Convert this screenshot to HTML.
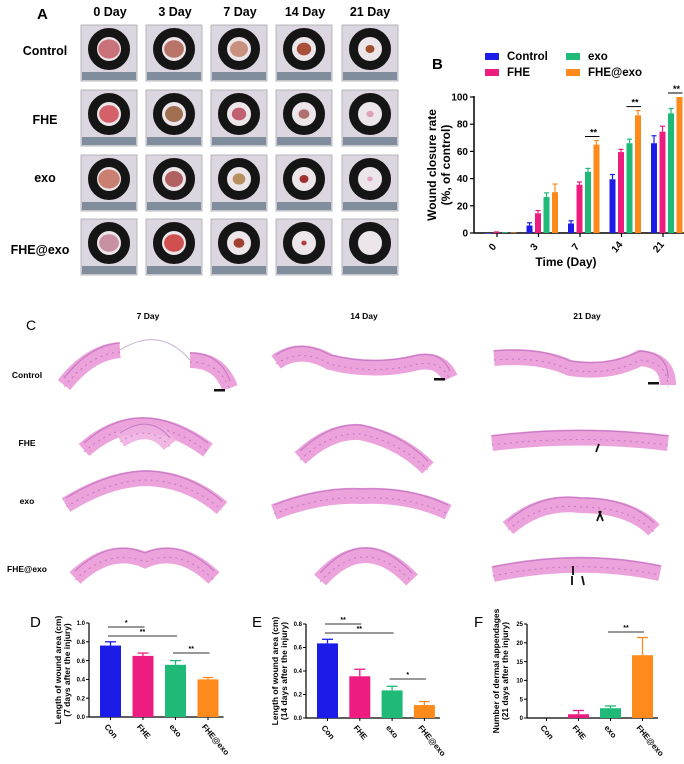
<!DOCTYPE html>
<html><head><meta charset="utf-8"><style>
html,body{margin:0;padding:0;background:#fff}
svg{display:block;font-family:"Liberation Sans",Arial,sans-serif}
</style></head><body>
<svg id="fig" width="684" height="764" viewBox="0 0 684 764">
<rect width="684" height="764" fill="#fff"/>
<g id="panelA">
<text x="37" y="19" font-size="15" font-weight="bold">A</text>
<g font-size="12.5" font-weight="bold" text-anchor="middle">
<text x="110" y="16">0 Day</text>
<text x="175" y="16">3 Day</text>
<text x="240" y="16">7 Day</text>
<text x="305" y="16">14 Day</text>
<text x="370" y="16">21 Day</text>
</g>
<g font-size="12.5" font-weight="bold" text-anchor="middle">
<text x="45" y="55">Control</text>
<text x="45" y="124">FHE</text>
<text x="45" y="182">exo</text>
<text x="40" y="254">FHE@exo</text>
</g>
</g>
<g id="panelB">
<text x="432" y="69" font-size="15" font-weight="bold">B</text>
</g>
<g id="panelC">
<text x="26" y="330" font-size="14">C</text>
<g font-size="8.5" font-weight="bold" text-anchor="middle">
<text x="148" y="319">7 Day</text>
<text x="364" y="319">14 Day</text>
<text x="587" y="319">21 Day</text>
<text x="27" y="378">Control</text>
<text x="27" y="446">FHE</text>
<text x="27" y="504">exo</text>
<text x="27" y="572">FHE@exo</text>
</g>
</g>
<g id="panelD"><text x="30" y="627" font-size="15">D</text></g>
<g id="panelE"><text x="252" y="627" font-size="15">E</text></g>
<g id="panelF"><text x="474" y="627" font-size="15">F</text></g>
</svg>
<script>
// ---- Panel B data ----
const bDays = ['0','3','7','14','21'];
const bSeriesNames = ['Control','FHE','exo','FHE@exo'];
const bControl = [0, 5.5, 7, 39.5, 66];
const bControlErr = [0, 2, 2, 3.5, 5.5];
const bFHE = [0.5, 14.5, 35.5, 59.5, 74.5];
const bFHEErr = [0.3, 2, 2, 2, 4];
const bExo = [0.5, 26.5, 45, 66, 88];
const bExoErr = [0, 3, 2.5, 3, 3.5];
const bFHEexo = [0.3, 30, 65, 86.5, 100];
const bFHEexoErr = [0, 6, 3, 3.5, 0];
const bYTicks = [0, 20, 40, 60, 80, 100];
const bSig = ['', '', '**', '**', '**'];
// ---- Panel D/E/F data ----
const groups = ['Con','FHE','exo','FHE@exo'];
const dValues = [0.76, 0.65, 0.555, 0.40];
const dErr = [0.04, 0.03, 0.045, 0.02];
const dTicks = ['0.0','0.2','0.4','0.6','0.8','1.0'];
const eValues = [0.635, 0.355, 0.235, 0.11];
const eErr = [0.035, 0.06, 0.035, 0.03];
const eTicks = ['0.0','0.2','0.4','0.6','0.8'];
const fValues = [0, 1.0, 2.6, 16.7];
const fErr = [0, 1.0, 0.6, 4.7];
const fTicks = ['0','5','10','15','20','25'];

const NS='http://www.w3.org/2000/svg';
const colors=['#1c1ce8','#ec1c80','#1fba78','#ff8a1c'];
function mk(parent,tag,attrs,text){const e=document.createElementNS(NS,tag);for(const k in attrs)e.setAttribute(k,attrs[k]);if(text!==undefined)e.textContent=text;parent.appendChild(e);return e;}

// ---- Panel A photos ----
const A=document.getElementById('panelA');
const colX=[81,146,211,276,342], rowY=[25,90,155,219];
const wounds=[[[12,'#c9727a'],[11,'#b97468'],[10,'#c99080'],[8,'#a8503a'],[5,'#a0502f']],
[[11,'#d4606a'],[10,'#a07050'],[8,'#c06070'],[6,'#b07070'],[4,'#e0a0b8']],
[[12,'#c98070'],[10,'#b06060'],[7,'#b89060'],[5,'#a03030'],[3,'#e0a0c0']],
[[11,'#c890a0'],[11,'#d05050'],[6,'#a04030'],[3,'#b04040'],[0,'#fff']]];
rowY.forEach((y,r)=>colX.forEach((x,c)=>{
 const g=mk(A,'g',{});
 
 
 mk(g,'rect',{x:x,y:y,width:56,height:56,fill:'#dcd6e0',stroke:'#a8a8b0','stroke-width':0.8});
 mk(g,'rect',{x:x+1,y:y+47,width:54,height:8,fill:'#808d9c'});
 mk(g,'circle',{cx:x+28,cy:y+24,r:16.5,fill:'#ece6ea',stroke:'#151515','stroke-width':9});
 const w=wounds[r][c]; if(w[0]>0) mk(g,'ellipse',{cx:x+28,cy:y+24,rx:w[0]*0.9,ry:w[0]*0.8,fill:w[1]});
}));

// ---- Panel B chart ----
const B=document.getElementById('panelB');
const bx0=474,bx1=686,by0=233,by1=97;
const bY=v=>by0-(v/100)*(by0-by1);
const groupC=i=>497+i*41.5;
const barX=(i,s)=>groupC(i)-12+s*8.5;
mk(B,'line',{x1:bx0,y1:by1-1,x2:bx0,y2:by0,stroke:'#000','stroke-width':1.5});
mk(B,'line',{x1:bx0,y1:by0,x2:bx1,y2:by0,stroke:'#000','stroke-width':1.5});
bYTicks.forEach(t=>{
 mk(B,'line',{x1:bx0-4,y1:bY(t),x2:bx0,y2:bY(t),stroke:'#000','stroke-width':1.2});
 const tx=mk(B,'text',{x:bx0-6,y:bY(t)+3.5,'font-size':10,'font-weight':'bold','text-anchor':'end'},String(t));
 
 
});
const bSeries=[[bControl,bControlErr],[bFHE,bFHEErr],[bExo,bExoErr],[bFHEexo,bFHEexoErr]];
bDays.forEach((d,i)=>{
 bSeries.forEach((se,s)=>{
  const v=se[0][i],e=se[1][i],x=barX(i,s);
  const r=mk(B,'rect',{x:x,y:bY(v),width:6,height:Math.max(by0-bY(v),0.5),fill:colors[s]});
  
  
  if(e>0){mk(B,'line',{x1:x+3,y1:bY(v),x2:x+3,y2:bY(v+e),stroke:colors[s],'stroke-width':1.2});
   mk(B,'line',{x1:x+0.5,y1:bY(v+e),x2:x+5.5,y2:bY(v+e),stroke:colors[s],'stroke-width':1.2});}
 });
 mk(B,'line',{x1:groupC(i),y1:by0,x2:groupC(i),y2:by0+4,stroke:'#000','stroke-width':1.2});
 const lt=mk(B,'text',{x:0,y:0,'font-size':10,'font-weight':'bold','text-anchor':'middle',transform:`translate(${groupC(i)-2},${by0+16}) rotate(-50)`},d);
 
 
 if(bSig[i]){const top=bY(bFHEexo[i]+bFHEexoErr[i])-4;
  mk(B,'line',{x1:barX(i,2),y1:top,x2:barX(i,3)+6,y2:top,stroke:'#000','stroke-width':1});
  const st=mk(B,'text',{x:barX(i,3),y:top-1,'font-size':9,'font-weight':'bold','text-anchor':'middle'},bSig[i]);
  
  }
});
const yt=mk(B,'text',{transform:'translate(436,165) rotate(-90)','font-size':12,'font-weight':'bold','text-anchor':'middle'},'Wound closure rate');


const yt2=mk(B,'text',{transform:'translate(450,165) rotate(-90)','font-size':12,'font-weight':'bold','text-anchor':'middle'},'(%, of control)');


const xt=mk(B,'text',{x:566,y:266,'font-size':12,'font-weight':'bold','text-anchor':'middle'},'Time (Day)');


const legPos=[[485,60],[485,76],[566,60],[566,76]];
bSeriesNames.forEach((n,s)=>{
 const g=mk(B,'g',{});
 
 
 mk(g,'rect',{x:legPos[s][0],y:legPos[s][1]-7,width:14,height:7,fill:colors[s]});
 mk(g,'text',{x:legPos[s][0]+22,y:legPos[s][1],'font-size':11.5,'font-weight':'bold'},n);
});

// ---- Panel C histology ----
const C=document.getElementById('panelC');
const tissue=[
 ['M64 385 Q90 352 120 350','M190 360 Q220 360 230 388'],
 ['M276 362 Q300 345 330 362 Q370 372 410 364 Q440 355 450 378'],
 ['M494 358 Q540 354 570 368 Q610 374 640 358 Q668 360 668 385'],
 ['M84 450 Q140 400 208 450','M120 440 Q150 420 170 445'],
 ['M300 458 Q330 430 360 432 Q400 440 428 468'],
 ['M492 443 Q580 432 668 443'],
 ['M66 505 Q110 478 148 478 Q190 480 222 508'],
 ['M274 512 Q320 494 362 496 Q410 494 448 512'],
 ['M508 528 Q540 500 580 505 Q630 505 654 530'],
 ['M75 578 Q110 545 145 560 Q180 545 214 578'],
 ['M320 580 Q365 530 412 580'],
 ['M493 574 Q580 556 660 573']];
tissue.forEach((arr,k)=>arr.forEach((p,j)=>{
 const e=mk(C,'path',{d:p,fill:'none',stroke:j===1&&k===3?'#eeb0e0':'#ea98d6','stroke-width':16,'stroke-linecap':'butt',opacity:0.9});
 
 
 mk(C,'path',{d:p,fill:'none',stroke:'#b060b8','stroke-width':1.2,transform:'translate(0,-7)',opacity:0.6});
 mk(C,'path',{d:p,fill:'none',stroke:'#9a4aa8','stroke-width':1,'stroke-dasharray':'2 4',transform:'translate(0,2)',opacity:0.5});
}));
mk(C,'path',{d:'M120 350 Q160 325 190 360',fill:'none',stroke:'#c8b0d0','stroke-width':1});
[[214,389],[434,378],[648,382]].forEach(([x,y])=>mk(C,'rect',{x:x,y:y,width:11,height:2.5,fill:'#111'}));
[[596,452,3,-8],[597,521,4,-10],[603,521,-4,-10],[573,566,0,9],[572,585,0,-9],[584,585,-2,-9]].forEach(([x,y,dx,dy])=>{
 mk(C,'line',{x1:x,y1:y,x2:x+dx,y2:y+dy,stroke:'#111','stroke-width':1.8});
});

// ---- Panels D/E/F ----
function barChart(id,ax,yTop,yBot,max,ticks,values,errs,firstX,pitch,titles,sigs){
 const G=document.getElementById(id);
 const Y=v=>yBot-(v/max)*(yBot-yTop);
 const endX=firstX+pitch*3+26;
 mk(G,'line',{x1:ax,y1:yTop,x2:ax,y2:yBot,stroke:'#000','stroke-width':1.2});
 mk(G,'line',{x1:ax,y1:yBot,x2:endX,y2:yBot,stroke:'#000','stroke-width':1.2});
 ticks.forEach((t,i)=>{const v=parseFloat(t);
  mk(G,'line',{x1:ax-3,y1:Y(v),x2:ax,y2:Y(v),stroke:'#000','stroke-width':1});
  const tx=mk(G,'text',{x:ax-4,y:Y(v)+2.2,'font-size':6,'font-weight':'bold','text-anchor':'end'},t);
  
  
 });
 groups.forEach((g,i)=>{
  const x=firstX+i*pitch,v=values[i],e=errs[i];
  const r=mk(G,'rect',{x:x,y:Y(v),width:21,height:yBot-Y(v),fill:colors[i]});
  
  
  if(e>0){mk(G,'line',{x1:x+10.5,y1:Y(v),x2:x+10.5,y2:Y(v+e),stroke:colors[i],'stroke-width':1.3});
   mk(G,'line',{x1:x+5,y1:Y(v+e),x2:x+16,y2:Y(v+e),stroke:colors[i],'stroke-width':1.3});}
  mk(G,'line',{x1:x+10.5,y1:yBot,x2:x+10.5,y2:yBot+3,stroke:'#000','stroke-width':1});
  const lt=mk(G,'text',{transform:`translate(${x+4},${yBot+10}) rotate(50)`,'font-size':8,'font-weight':'bold'},g);
  
  
 });
 sigs.forEach(([a,b,yy,s],k)=>{
  const x1=firstX+a*pitch+8,x2=firstX+b*pitch+12;
  mk(G,'line',{x1:x1,y1:yy,x2:x2,y2:yy,stroke:'#333','stroke-width':1});
  const st=mk(G,'text',{x:(x1+x2)/2,y:yy-2,'font-size':7,'font-weight':'bold','text-anchor':'middle'},s);
  
  
 });
 const cy=(yTop+yBot)/2;
 const t1=mk(G,'text',{transform:`translate(${ax-28},${cy}) rotate(-90)`,'font-size':8.5,'font-weight':'bold','text-anchor':'middle'},titles[0]);
 
 
 const t2=mk(G,'text',{transform:`translate(${ax-19},${cy}) rotate(-90)`,'font-size':8.5,'font-weight':'bold','text-anchor':'middle'},titles[1]);
 
 
}
barChart('panelD',89,623,717,1.0,dTicks,dValues,dErr,100,32.5,['Length of wound area (cm)','(7 days after the injury)'],[[0,1,627,'*'],[0,2,636,'**'],[2,3,653,'**']]);
barChart('panelE',306,624,718,0.8,eTicks,eValues,eErr,317,32.3,['Length of wound area (cm)','(14 days after the injury)'],[[0,1,624,'**'],[0,2,633,'**'],[2,3,679,'*']]);
barChart('panelF',527,624,718,25,fTicks,fValues,fErr,536,32,['Number of dermal appendages','(21 days after the injury)'],[[2,3,632,'**']]);
</script>
</body></html>
